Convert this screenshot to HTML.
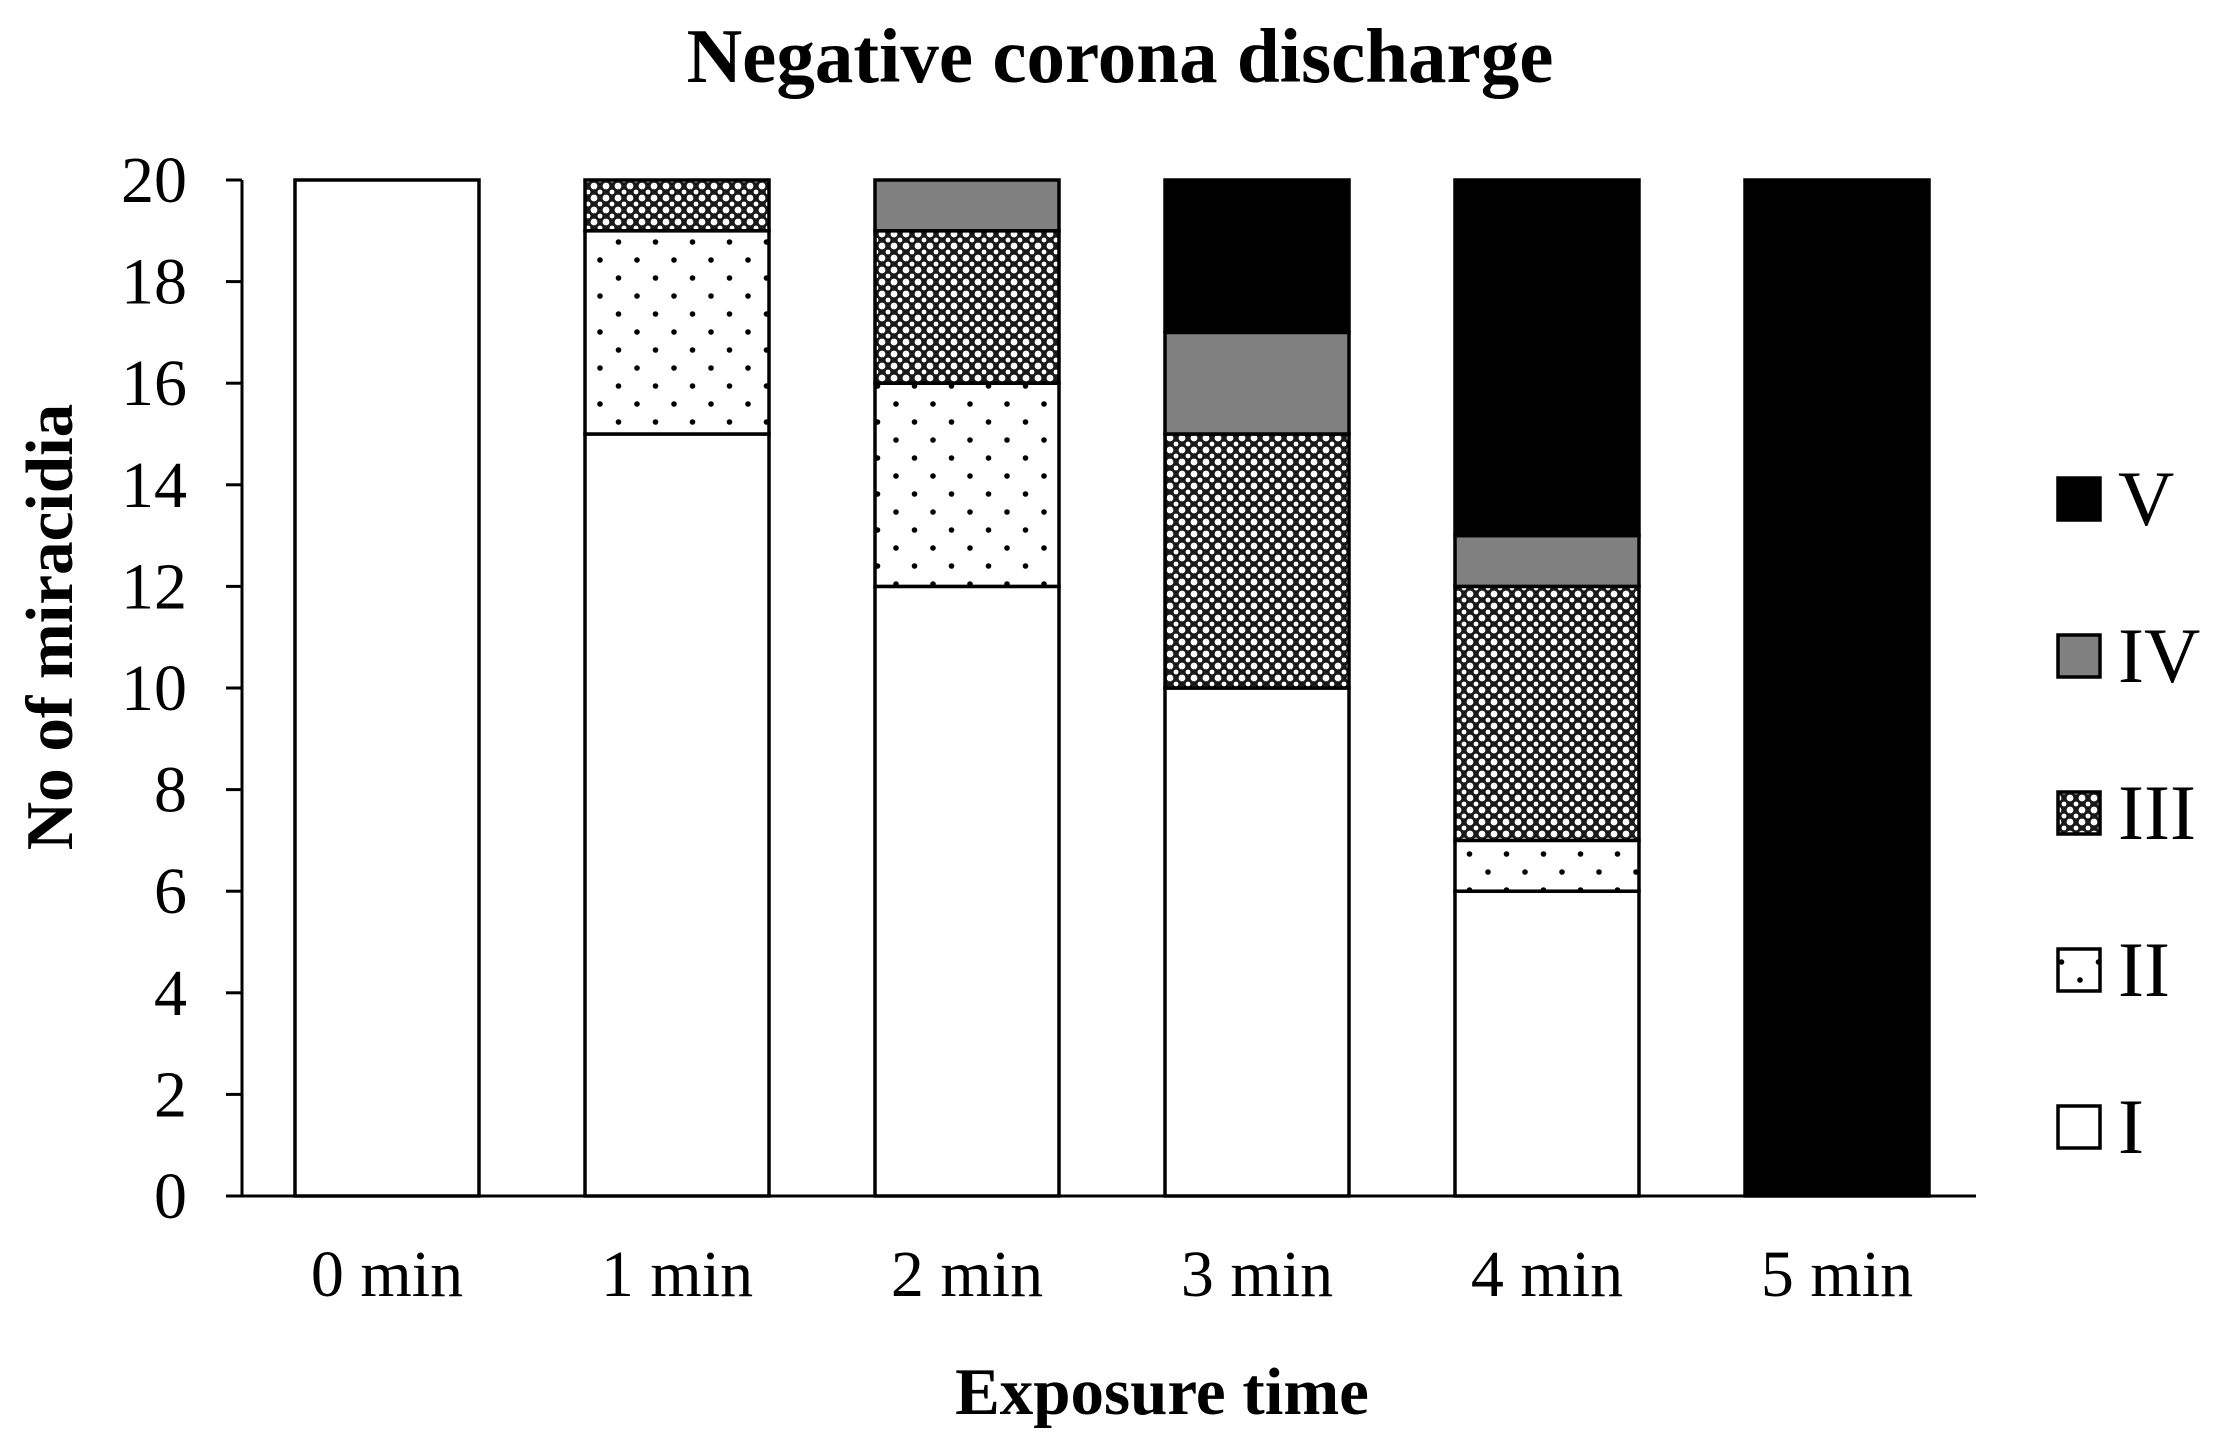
<!DOCTYPE html>
<html><head><meta charset="utf-8"><style>
html,body{margin:0;padding:0;background:#fff;}
svg{display:block;font-family:"Liberation Serif",serif;}
</style></head><body>
<svg width="2236" height="1451" viewBox="0 0 2236 1451">
<defs>
<pattern id="pDots" width="37" height="36" patternUnits="userSpaceOnUse" x="0" y="0">
<rect width="37" height="36" fill="#fff"/>
<circle cx="8" cy="8" r="2.8" fill="#000"/><circle cx="26.5" cy="26" r="2.8" fill="#000"/>
</pattern>
<pattern id="pCross" width="12" height="12" patternUnits="userSpaceOnUse">
<rect width="12" height="12" fill="#1a1a1a"/>
<circle cx="6" cy="6" r="3.4" fill="#fff"/><circle cx="0" cy="0" r="2.4" fill="#fff"/><circle cx="12" cy="0" r="2.4" fill="#fff"/><circle cx="0" cy="12" r="2.4" fill="#fff"/><circle cx="12" cy="12" r="2.4" fill="#fff"/>
</pattern>
</defs>
<text x="1120" y="82" text-anchor="middle" font-size="77" font-weight="bold">Negative corona discharge</text>
<g id="plot"></g>
<text x="1162" y="1414" text-anchor="middle" font-size="67" font-weight="bold">Exposure time</text>
<text transform="translate(72,627) rotate(-90)" text-anchor="middle" font-size="67" font-weight="bold">No of miracidia</text>
</svg>
<script>
const categories=["0 min","1 min","2 min","3 min","4 min","5 min"];
const seriesNames=["I","II","III","IV","V"];
const sI=[20,15,12,10,6,0];
const sII=[0,4,4,0,1,0];
const sIII=[0,1,3,5,5,0];
const sIV=[0,0,1,2,1,0];
const sV=[0,0,0,3,7,20];
const yTicks=[0,2,4,6,8,10,12,14,16,18,20];
const fills=["#fff","url(#pDots)","url(#pCross)","#808080","#000"];
const NS="http://www.w3.org/2000/svg";
const g=document.getElementById('plot');
const y0=1196,y1=180,yMax=20,x0=242,xEnd=1976,band=290,bw=184,firstCenter=387;
const ys=v=>y0-(v/yMax)*(y0-y1);
const xc=i=>firstCenter+i*band;
function mk(t,a){const e=document.createElementNS(NS,t);for(const k in a)e.setAttribute(k,a[k]);g.appendChild(e);return e;}
const series=[sI,sII,sIII,sIV,sV];
categories.forEach((c,i)=>{
  let cum=0;
  series.forEach((s,k)=>{
    const v=s[i];if(!v)return;
    const r=mk('rect',{x:xc(i)-bw/2,y:ys(cum+v),width:bw,height:ys(cum)-ys(cum+v),fill:fills[k],stroke:'#000','stroke-width':3.5});
    
    
    cum+=v;
  });
  const t=mk('text',{x:xc(i),y:1296,'text-anchor':'middle','font-size':66});
  t.textContent=c;
  
  
});
yTicks.forEach(v=>{
  const l=mk('line',{x1:x0-16,x2:x0,y1:ys(v),y2:ys(v),stroke:'#000','stroke-width':3});
  
  
  const t=mk('text',{x:187,y:ys(v)+22,'text-anchor':'end','font-size':66});
  t.textContent=v;
  
  
});
const ya=mk('line',{x1:x0,x2:x0,y1:y1,y2:y0,stroke:'#000','stroke-width':3});


const xa=mk('line',{x1:x0-16,x2:xEnd,y1:y0,y2:y0,stroke:'#000','stroke-width':3});


const legY=[1127,970,813,656,499];
seriesNames.forEach((n,k)=>{
  const r=mk('rect',{x:2058,y:legY[k]-21,width:42,height:42,fill:fills[k],stroke:'#000','stroke-width':3.5});
  
  
  const t=mk('text',{x:2118,y:legY[k]+26,'font-size':78});
  t.textContent=n;
  
  
});
</script>
</body></html>
